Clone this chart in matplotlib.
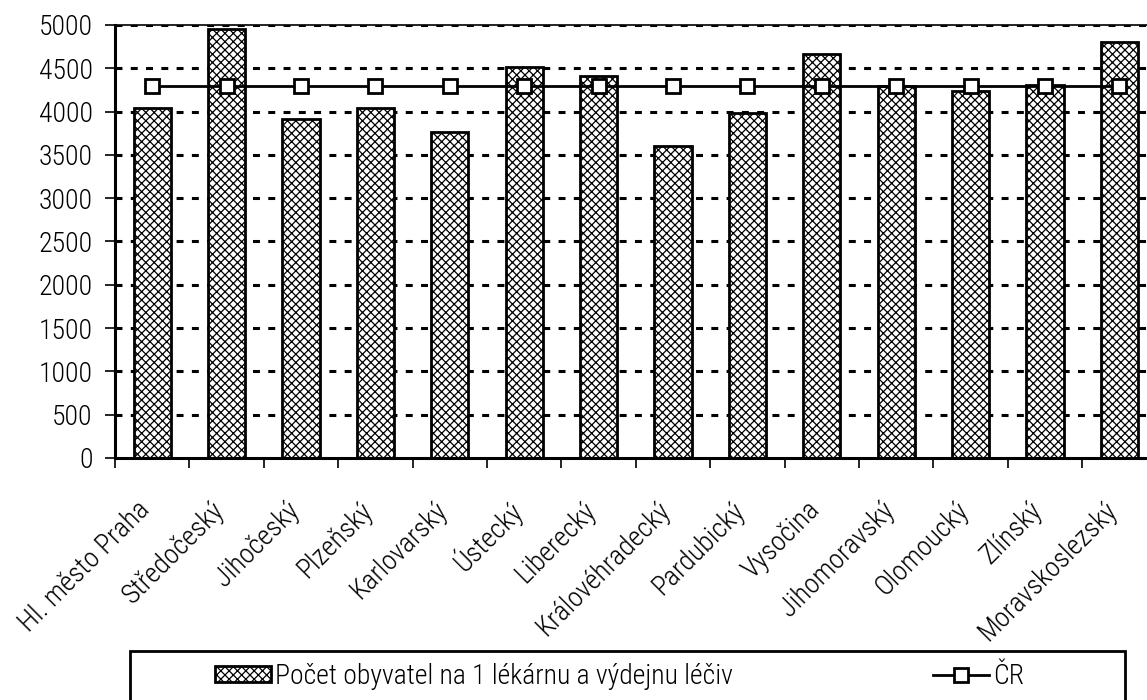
import numpy as np
import matplotlib
matplotlib.use('Agg')
import matplotlib.pyplot as plt
import matplotlib.transforms as mtransforms
from matplotlib.patches import Rectangle

plt.rcParams['font.family'] = ['Roboto Condensed', 'DejaVu Sans']
plt.rcParams['font.weight'] = 'light'
plt.rcParams['hatch.linewidth'] = 0.9
plt.rcParams['lines.scale_dashes'] = False

regions = ['Hl. město Praha', 'Středočeský', 'Jihočeský', 'Plzeňský', 'Karlovarský',
           'Ústecký', 'Liberecký', 'Královéhradecký', 'Pardubický', 'Vysočina',
           'Jihomoravský', 'Olomoucký', 'Zlínský', 'Moravskoslezský']
obyvatel = [4040, 4950, 3915, 4045, 3765, 4520, 4410, 3605, 3985, 4665,
            4290, 4240, 4305, 4800]
cr_value = 4300
cr = [cr_value] * len(regions)

FS = 20
W, H = 1147, 700

fig = plt.figure(figsize=(W / 100, H / 100), dpi=100)
ax = fig.add_axes([115 / W, 1 - 458 / H, 1041.6 / W, 433 / H])

x = np.arange(len(regions))
bars = ax.bar(x, obyvatel, width=0.5, color='white', edgecolor='black',
              linewidth=2, hatch='xxxx', zorder=2,
              label='Počet obyvatel na 1 lékárnu a výdejnu léčiv')
line, = ax.plot(x, cr, color='black', lw=2, marker='s', markersize=9.5,
                markerfacecolor='white', markeredgecolor='black',
                markeredgewidth=2, zorder=3, label='ČR')

ax.set_xlim(-0.5, len(regions) - 0.5)
ax.set_ylim(0, 5000)
ax.set_yticks(np.arange(0, 5001, 500))

# category boundaries as ticks, names rotated under the bar centres
ax.set_xticks(np.arange(-0.5, len(regions), 1.0))
ax.set_xticklabels([])
shift = mtransforms.ScaledTranslation(-6 / 100, -48 / 100, fig.dpi_scale_trans)
for i, name in enumerate(regions):
    ax.text(i, 0, name, transform=ax.get_xaxis_transform() + shift,
            rotation=45, ha='right', va='center', rotation_mode='anchor',
            fontsize=FS)

for yv in np.arange(500, 5001, 500):
    ax.axhline(yv, color='black', lw=2.2, dashes=(5, 6), zorder=1)

ax.tick_params(axis='y', direction='out', length=7, width=1.2, labelsize=FS, pad=9)
ax.tick_params(axis='x', direction='out', length=7, width=1.2)
ax.spines['right'].set_visible(False)
ax.spines['top'].set_linewidth(1.2)
for s in ['left', 'bottom']:
    ax.spines[s].set_linewidth(2.2)

# legend box
fig.patches.append(Rectangle((130 / W, -0.05), 995 / W, 0.05 + (700 - 651) / H,
                             transform=fig.transFigure, facecolor='white',
                             edgecolor='black', linewidth=2))
leg_kw = dict(loc='center left', frameon=False, fontsize=FS, handlelength=2.0,
              handleheight=0.5, handletextpad=0.15, borderpad=0, borderaxespad=0)
fig.legend(handles=[bars], bbox_to_anchor=(215 / W, 1 - 676 / H), **leg_kw)
fig.legend(handles=[line], bbox_to_anchor=(933 / W, 1 - 676 / H), **leg_kw)

fig.savefig('out.png', dpi=100)
